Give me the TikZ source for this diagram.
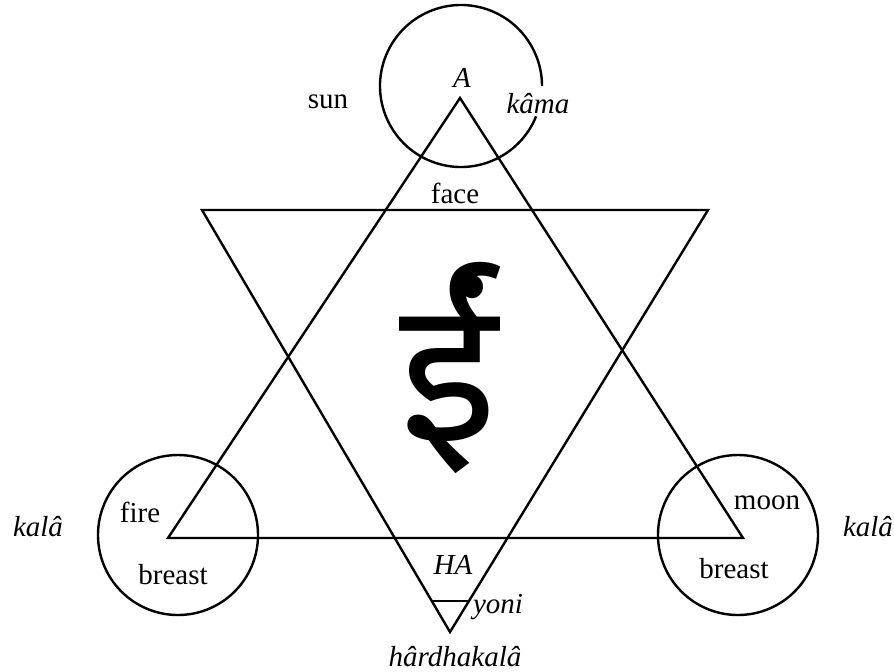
\documentclass[tikz,border=0pt]{standalone}
\usepackage{fontspec}
\setmainfont{Liberation Serif}
\newfontfamily\devfont[Script=Devanagari]{Noto Sans}
\usetikzlibrary{calc,positioning}
\tikzset{
  line/.style={line width=1.2pt,black,line join=miter},
  ring/.style={line width=1.2pt,black},
  lbl/.style={font=\fontsize{14.5}{16}\selectfont,inner sep=0pt},
  ilbl/.style={font=\fontsize{14.5}{16}\selectfont\itshape,inner sep=0pt},
}

\begin{document}
\begin{tikzpicture}[x=0.5pt,y=-0.5pt]
  \useasboundingbox (0,0) rectangle (894,671);

  % Upward triangle
  \coordinate (up top) at (460,98);
  \coordinate (up left) at (168,538);
  \coordinate (up right) at (743,538);
  \draw[line] (up top) -- (up left) -- (up right) -- cycle;

  % Downward triangle
  \coordinate (dn left) at (202,210);
  \coordinate (dn right) at (708,210);
  \coordinate (dn tip) at (450,632);
  \draw[line] (dn left) -- (dn right) -- (dn tip) -- cycle;

  % yoni
  \draw[line] ($(dn tip)!0.073!(dn left)$) -- ($(dn tip)!0.073!(dn right)$);

  % Circles
  \coordinate (sun c) at (461,86);
  \draw[ring] (sun c) ++(22:81) arc[start angle=22,end angle=360,radius=81];
  \draw[ring] (178,535) circle[radius=80];
  \draw[ring] (738,535) circle[radius=80];

  % Bija
  \node (bija) at (449,368) {\devfont\bfseries\fontsize{100}{110}\selectfont ईं};

  % Labels
  \node[ilbl] (a) at (462,78) {A};
  \node[lbl] (sun) at (328,102) {sun};
  \node[ilbl] (kama) at (538,104) {kâma};
  \node[lbl] (face) at (455,193) {face};
  \node[lbl] (fire) at (140,512) {fire};
  \node[lbl] (breast l) at (173,575) {breast};
  \node[ilbl] (kala l) at (38,527) {kalâ};
  \node[lbl] (moon) at (767,503) {moon};
  \node[lbl] (breast r) at (734,569) {breast};
  \node[ilbl] (kala r) at (868,527) {kalâ};
  \node[ilbl] (ha) at (453,565) {HA};
  \node[ilbl] (yoni) at (498,607) {yoni};
  \node[ilbl] (hardha) at (455,657) {hârdhakalâ};

\end{tikzpicture}
\end{document}
